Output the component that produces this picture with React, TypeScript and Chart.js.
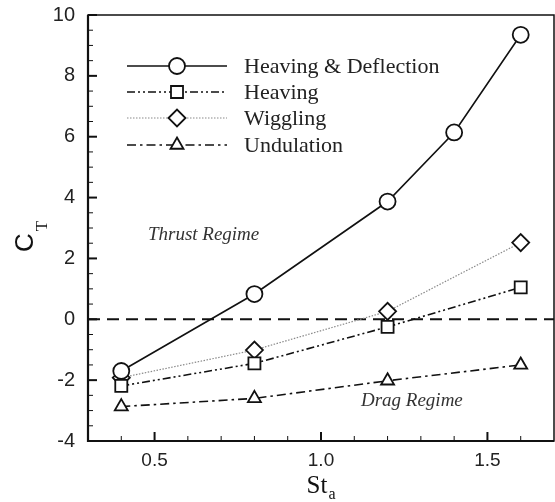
import React, { useEffect, useRef } from 'react';
import { Chart, registerables } from 'chart.js';

Chart.register(...registerables);

// ---- data ----
const stHD = [0.4, 0.8, 1.2, 1.4, 1.6];
const stOthers = [0.4, 0.8, 1.2, 1.6];
const heavingDeflection = [-1.7, 0.83, 3.87, 6.14, 9.35];
const heaving = [-2.19, -1.45, -0.25, 1.05];
const wiggling = [-1.92, -1.01, 0.26, 2.52];
const undulation = [-2.87, -2.6, -2.02, -1.5];
const xTickValues = [0.5, 1.0, 1.5];
const yTickValues = [-4, -2, 0, 2, 4, 6, 8, 10];
const seriesLabels = ['Heaving & Deflection', 'Heaving', 'Wiggling', 'Undulation'];

const INK = '#111';
const GRAY = '#8a8a8a';

type Style = { color: string; dash: number[]; width: number; marker: string; r: number };
const styles: Style[] = [
  { color: INK, dash: [], width: 1.6, marker: 'circle', r: 8 },
  { color: INK, dash: [8, 3, 2, 3, 2, 3], width: 1.6, marker: 'rect', r: 8.5 },
  { color: GRAY, dash: [1.5, 1.5], width: 1.2, marker: 'rectRot', r: 8.5 },
  { color: INK, dash: [9, 4, 2.5, 4], width: 1.6, marker: 'triangle', r: 7.5 },
];

function drawMarker(ctx: CanvasRenderingContext2D, kind: string, x: number, y: number, r: number) {
  ctx.beginPath();
  if (kind === 'circle') {
    ctx.arc(x, y, r, 0, Math.PI * 2);
  } else if (kind === 'rect') {
    const s = Math.SQRT1_2 * r;
    ctx.rect(x - s, y - s, 2 * s, 2 * s);
  } else if (kind === 'rectRot') {
    ctx.moveTo(x - r, y);
    ctx.lineTo(x, y - r);
    ctx.lineTo(x + r, y);
    ctx.lineTo(x, y + r);
    ctx.closePath();
  } else if (kind === 'triangle') {
    const a = Math.PI / 2;
    ctx.moveTo(x + Math.cos(-a) * r, y + Math.sin(-a) * r);
    ctx.lineTo(x + Math.cos(-a + (2 * Math.PI) / 3) * r, y + Math.sin(-a + (2 * Math.PI) / 3) * r);
    ctx.lineTo(x + Math.cos(-a + (4 * Math.PI) / 3) * r, y + Math.sin(-a + (4 * Math.PI) / 3) * r);
    ctx.closePath();
  }
  ctx.fillStyle = '#fff';
  ctx.fill();
  ctx.stroke();
}

const decorPlugin = {
  id: 'decor',
  beforeDatasetsDraw(chart: any) {
    const { ctx, chartArea, scales } = chart;
    const y0 = scales.y.getPixelForValue(0);
    ctx.save();
    ctx.strokeStyle = INK;
    ctx.lineWidth = 2;
    ctx.setLineDash([12, 7]);
    ctx.beginPath();
    ctx.moveTo(chartArea.left, y0);
    ctx.lineTo(chartArea.right, y0);
    ctx.stroke();
    ctx.restore();
  },
  afterDraw(chart: any) {
    const { ctx, chartArea, scales } = chart;
    const { left, right, top, bottom } = chartArea;
    ctx.save();
    // frame
    ctx.strokeStyle = INK;
    ctx.setLineDash([]);
    ctx.lineWidth = 1.5;
    ctx.strokeRect(left, top, right - left, bottom - top);
    ctx.lineWidth = 2.2;
    ctx.beginPath();
    ctx.moveTo(left, top);
    ctx.lineTo(left, bottom);
    ctx.lineTo(right, bottom);
    ctx.stroke();

    // ticks (inward)
    for (let i = 0; i <= 28; i++) {
      const v = -4 + i * 0.5;
      const major = Math.abs(v / 2 - Math.round(v / 2)) < 1e-6;
      const py = scales.y.getPixelForValue(v);
      ctx.lineWidth = major ? 2 : 1;
      ctx.beginPath();
      ctx.moveTo(left, py);
      ctx.lineTo(left + (major ? 9 : 5), py);
      ctx.stroke();
    }
    for (let i = 4; i <= 16; i++) {
      const v = i / 10;
      const major = i % 5 === 0;
      const px = scales.x.getPixelForValue(v);
      ctx.lineWidth = major ? 2 : 1;
      ctx.beginPath();
      ctx.moveTo(px, bottom);
      ctx.lineTo(px, bottom - (major ? 9 : 5));
      ctx.stroke();
    }

    // legend
    const lx0 = left + 39;
    const lx1 = left + 139;
    const rows = [top + 51, top + 77, top + 103, top + 130];
    styles.forEach((s, i) => {
      ctx.strokeStyle = s.color;
      ctx.lineWidth = s.width;
      ctx.setLineDash(s.dash);
      ctx.beginPath();
      ctx.moveTo(lx0, rows[i]);
      ctx.lineTo(lx1, rows[i]);
      ctx.stroke();
      ctx.setLineDash([]);
      ctx.strokeStyle = INK;
      ctx.lineWidth = 1.8;
      drawMarker(ctx, s.marker, (lx0 + lx1) / 2, rows[i], s.r);
      ctx.fillStyle = '#222';
      ctx.font = '22px "Liberation Serif", serif';
      ctx.textAlign = 'left';
      ctx.textBaseline = 'middle';
      ctx.fillText(seriesLabels[i], left + 156, rows[i] + 1);
    });

    // regime annotations
    ctx.fillStyle = '#333';
    ctx.font = 'italic 19px "Liberation Serif", serif';
    ctx.textAlign = 'left';
    ctx.textBaseline = 'alphabetic';
    ctx.fillText('Thrust Regime', scales.x.getPixelForValue(0.48), scales.y.getPixelForValue(2.6));
    ctx.fillText('Drag Regime', scales.x.getPixelForValue(1.12), scales.y.getPixelForValue(-2.85));

    // y title C_T
    const cy = (top + bottom) / 2;
    ctx.save();
    ctx.translate(33, cy + 24);
    ctx.rotate(-Math.PI / 2);
    ctx.fillStyle = '#111';
    ctx.textAlign = 'left';
    ctx.textBaseline = 'alphabetic';
    ctx.font = '26px "Liberation Sans", sans-serif';
    ctx.fillText('C', 0, 0);
    const cw = ctx.measureText('C').width;
    ctx.font = '17px "Liberation Serif", serif';
    ctx.fillText('T', cw + 2, 14);
    ctx.restore();

    // x title St_a
    ctx.fillStyle = '#111';
    ctx.font = '25px "Liberation Serif", serif';
    ctx.textAlign = 'left';
    ctx.textBaseline = 'alphabetic';
    const sw = ctx.measureText('St').width;
    const cx = (left + right) / 2 - (sw + 8) / 2;
    ctx.fillText('St', cx, 493);
    ctx.font = '16px "Liberation Serif", serif';
    ctx.fillText('a', cx + sw + 1, 499);
    ctx.restore();
  },
};

export default function App() {
  const ref = useRef<HTMLCanvasElement | null>(null);
  useEffect(() => {
    if (!ref.current) return;
    const mk = (xs: number[], ys: number[]) => xs.map((x, i) => ({ x, y: ys[i] }));
    const allData = [mk(stHD, heavingDeflection), mk(stOthers, heaving), mk(stOthers, wiggling), mk(stOthers, undulation)];
    const chart = new Chart(ref.current, {
      type: 'line',
      data: {
        datasets: allData.map((d, i) => ({
          label: seriesLabels[i],
          data: d,
          borderColor: styles[i].color,
          borderWidth: styles[i].width,
          borderDash: styles[i].dash,
          pointStyle: styles[i].marker as any,
          pointRadius: styles[i].r,
          pointBackgroundColor: '#fff',
          pointBorderColor: INK,
          pointBorderWidth: 1.8,
          tension: 0,
          fill: false,
        })),
      },
      options: {
        animation: false,
        responsive: false,
        maintainAspectRatio: false,
        layout: { autoPadding: false, padding: { top: 15, right: 1, left: 0, bottom: 0 } },
        plugins: { legend: { display: false }, tooltip: { enabled: false } },
        scales: {
          x: {
            type: 'linear',
            min: 0.3,
            max: 1.7,
            afterBuildTicks: (s: any) => {
              s.ticks = xTickValues.map((v) => ({ value: v }));
            },
            afterFit: (s: any) => {
              s.height = 61;
              s.paddingLeft = 0;
              s.paddingRight = 0;
            },
            grid: { display: false, drawTicks: false },
            border: { display: false },
            ticks: {
              padding: 8,
              color: '#222',
              font: { family: '"Liberation Sans", Arial, sans-serif', size: 19 },
              callback: (v: any) => Number(v).toFixed(1),
              maxRotation: 0,
            },
          },
          y: {
            type: 'linear',
            min: -4,
            max: 10,
            afterBuildTicks: (s: any) => {
              s.ticks = yTickValues.map((v) => ({ value: v }));
            },
            afterFit: (s: any) => {
              s.width = 88;
              s.paddingTop = 0;
              s.paddingBottom = 0;
            },
            grid: { display: false, drawTicks: false },
            border: { display: false },
            ticks: {
              padding: 13,
              color: '#222',
              font: { family: '"Liberation Sans", Arial, sans-serif', size: 20 },
              callback: (v: any) => String(v),
            },
          },
        },
      },
      plugins: [decorPlugin],
    });
    return () => chart.destroy();
  }, []);
  return (
    <div style={{ position: 'fixed', left: 0, top: 0, width: 555, height: 502, background: '#fff' }}>
      <canvas ref={ref} width={555} height={502} style={{ display: 'block' }} />
    </div>
  );
}
